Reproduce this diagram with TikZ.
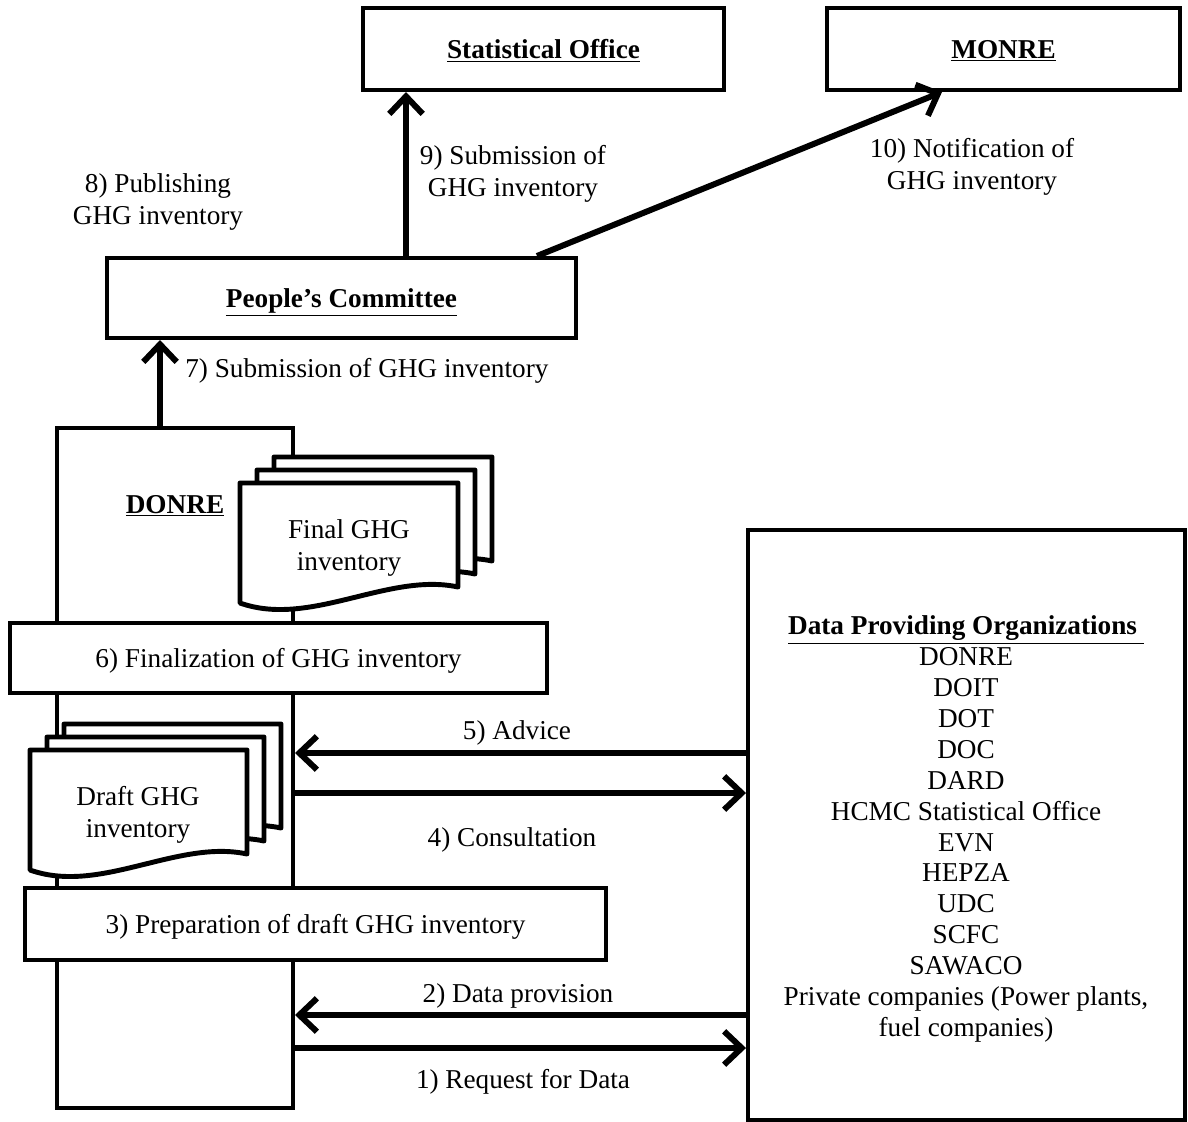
\documentclass[tikz,border=0pt]{standalone}
\usepackage{fontspec}
\setmainfont{Liberation Serif}
\usetikzlibrary{arrows.meta}
\tikzset{
  box/.style={draw, line width=2.3pt, fill=white, inner sep=0pt, text depth=0pt},
  sheet/.style={draw, line width=2.8pt, fill=white, line join=round},
  flow/.style={line width=3.4pt, -{Straight Barb[length=10pt,width=19pt]}},
  lbl/.style={align=center, inner sep=0pt, yshift=-1.7pt},
}
\begin{document}
\begin{tikzpicture}[x=0.02cm, y=-0.02cm, font=\fontsize{15.5}{18}\selectfont]
    \useasboundingbox (0,0) rectangle (1188,1122);
    % top row
    \node[box, minimum width=7.22cm, minimum height=1.64cm] (stat) at (543.5,49) {\underline{\textbf{Statistical Office}}};
    \node[box, minimum width=7.06cm, minimum height=1.64cm] (monre) at (1003.5,49) {\underline{\textbf{MONRE}}};
    \node[box, minimum width=9.38cm, minimum height=1.6cm] (pc) at (341.5,298) {\underline{\textbf{People’s Committee}}};
    % DONRE column
    \node[box, minimum width=4.72cm, minimum height=13.6cm] (donre) at (175,768) {};
    \node[lbl] (donrelbl) at (175,503) {\underline{\textbf{DONRE}}};
    \foreach \d in {2,1,0}
      \draw[sheet, shift={(17*\d,-13*\d)}] (240,483) -- ++(218,0) -- ++(0,104)
        .. controls +(-70,-15) and +(70,25) .. ++(-218,16) -- cycle;
    \node[lbl] (finaldoc) at (349,545) {Final GHG\\inventory};
    \node[box, minimum width=10.74cm, minimum height=1.4cm] (fin) at (278.5,658) {6) Finalization of GHG inventory};
    \foreach \d in {2,1,0}
      \draw[sheet, shift={(17*\d,-13*\d)}] (30,750) -- ++(217,0) -- ++(0,104)
        .. controls +(-70,-15) and +(70,25) .. ++(-217,16) -- cycle;
    \node[lbl] (draftdoc) at (138,812) {Draft GHG\\inventory};
    \node[box, minimum width=11.62cm, minimum height=1.44cm] (prep) at (315.5,924) {3) Preparation of draft GHG inventory};
    % data providers
    \node[box, minimum width=8.74cm, minimum height=11.8cm] (dpo) at (966.5,825) {};
    \node[lbl, font=\fontsize{15.5}{17.6}\selectfont] (orgs) at (966,826) {\underline{\textbf{Data Providing Organizations}\ }\\DONRE\\DOIT\\DOT\\DOC\\DARD\\HCMC Statistical Office\\EVN\\HEPZA\\UDC\\SCFC\\SAWACO\\Private companies (Power plants,\\fuel companies)};
    % connectors
    \coordinate (x7) at (160,0); \coordinate (x9) at (406,0);
    \coordinate (x10) at (537,0); \coordinate (x10e) at (942,0);
    \coordinate (y5) at (0,753); \coordinate (y4) at (0,793);
    \coordinate (y2) at (0,1015); \coordinate (y1) at (0,1048);
    \draw[flow] (x7 |- donre.north) -- (x7 |- pc.south);
    \draw[flow] (x9 |- pc.north) -- (x9 |- stat.south);
    \draw[flow] (x10 |- pc.north) -- (x10e |- monre.south);
    \draw[flow] (dpo.west |- y5) -- (donre.east |- y5);
    \draw[flow] (donre.east |- y4) -- (dpo.west |- y4);
    \draw[flow] (dpo.west |- y2) -- (donre.east |- y2);
    \draw[flow] (donre.east |- y1) -- (dpo.west |- y1);
    % labels
    \node[lbl] (l8) at (158,199) {8) Publishing\\GHG inventory};
    \node[lbl] (l9) at (513,171) {9) Submission of\\GHG inventory};
    \node[lbl] (l10) at (972,164) {10) Notification of\\GHG inventory};
    \node[lbl, anchor=west] (l7) at (185,368) {7) Submission of GHG inventory};
    \node[lbl] (l5) at (517,730) {5) Advice};
    \node[lbl] (l4) at (512,837) {4) Consultation};
    \node[lbl] (l2) at (518,993) {2) Data provision};
    \node[lbl] (l1) at (523,1079) {1) Request for Data};
\end{tikzpicture}
\end{document}
